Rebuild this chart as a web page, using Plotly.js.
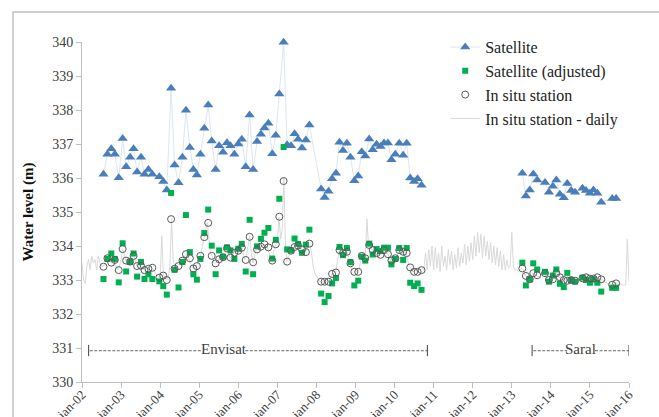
<!DOCTYPE html>
<html><head><meta charset="utf-8">
<script src="https://cdn.plot.ly/plotly-3.0.1.min.js"></script>
<style>html,body{margin:0;padding:0;background:#fff}#chart{width:659px;height:417px}</style>
</head><body><div id="chart"></div>
<script>
// ---- axis ticks ----
const yearTicks = [2002,2003,2004,2005,2006,2007,2008,2009,2010,2011,2012,2013,2014,2015,2016];
const yearLabels = ['jan-02','jan-03','jan-04','jan-05','jan-06','jan-07','jan-08','jan-09','jan-10','jan-11','jan-12','jan-13','jan-14','jan-15','jan-16'];

// ---- Envisat passes (decimal years) ----
const envisatDates = [2002.55,2002.65,2002.75,2002.84,2002.94,
  2003.04,2003.13,2003.23,2003.32,2003.41,2003.51,2003.60,2003.70,2003.80,2003.98,
  2004.08,2004.17,2004.28,2004.37,2004.47,2004.57,2004.66,2004.76,2004.85,2004.94,
  2005.03,2005.13,2005.23,2005.32,2005.42,2005.51,2005.61,2005.71,2005.80,2005.90,
  2006.00,2006.09,2006.19,2006.29,2006.38,2006.48,2006.58,2006.67,2006.77,2006.87,2006.96,
  2007.05,2007.16,2007.25,2007.35,2007.44,2007.53,2007.63,2007.73,2007.82,
  2008.12,2008.21,2008.31,2008.40,2008.50,2008.59,2008.68,2008.78,2008.87,2008.97,
  2009.07,2009.16,2009.25,2009.35,2009.44,2009.54,2009.64,2009.73,2009.83,2009.92,
  2010.02,2010.12,2010.22,2010.31,2010.40,2010.50,2010.59,2010.69];
const envisatSatellite = [336.11,336.70,336.86,336.70,336.01,
  337.16,336.33,336.61,336.86,336.18,336.61,336.11,336.25,336.11,336.04,
  335.90,335.65,338.64,336.38,335.86,336.61,337.99,336.90,336.25,336.09,
  336.70,337.46,338.15,337.09,336.25,336.95,336.76,337.04,336.95,336.70,
  337.00,337.14,336.33,337.85,336.25,337.07,337.29,337.47,337.61,336.71,337.26,
  338.47,339.99,336.98,336.95,337.30,337.14,336.88,337.12,337.56,
  335.68,335.43,335.61,335.98,336.14,337.05,336.81,337.02,336.61,335.92,
  336.06,336.77,336.65,337.15,336.83,336.99,336.93,337.03,337.03,336.54,
  336.70,337.02,336.67,337.02,336.00,335.90,335.98,335.79];
const envisatAdjusted = [333.03,333.62,333.78,333.62,332.93,
  334.08,333.25,333.53,333.78,333.10,333.53,333.03,333.17,333.03,332.96,
  332.82,332.57,335.56,333.30,332.78,333.53,334.91,333.82,333.17,333.01,
  333.62,334.38,335.07,334.01,333.17,333.87,333.68,333.96,333.87,333.62,
  333.92,334.06,333.25,334.77,333.17,333.99,334.21,334.39,334.53,333.63,334.18,
  335.39,336.91,333.90,333.87,334.22,334.06,333.80,334.04,334.48,
  332.60,332.35,332.53,332.90,333.06,333.97,333.73,333.94,333.53,332.84,
  332.98,333.69,333.57,334.07,333.75,333.91,333.85,333.95,333.95,333.46,
  333.62,333.94,333.59,333.94,332.92,332.82,332.90,332.71];
const envisatInSitu = [333.39,333.64,333.51,333.59,333.29,
  333.91,333.57,333.54,333.71,333.41,333.42,333.29,333.33,333.36,333.07,
  333.13,333.00,334.79,333.33,333.41,333.57,333.76,333.64,333.34,333.41,
  333.71,334.26,334.68,333.71,333.49,333.61,333.67,333.93,333.66,333.80,
  333.86,333.95,333.59,334.27,333.52,333.90,333.98,334.05,333.96,333.57,334.05,
  334.86,335.91,333.54,333.86,333.97,334.01,333.90,333.82,334.07,
  332.95,332.95,332.95,333.18,333.22,333.88,333.79,333.83,333.49,333.24,
  333.24,333.71,333.64,334.03,333.88,333.79,333.74,333.88,333.76,333.57,
  333.64,333.88,333.83,333.79,333.37,333.24,333.24,333.29];

// ---- Saral passes ----
const saralDates = [2013.27,2013.36,2013.46,2013.55,2013.65,2013.85,2013.95,
  2014.05,2014.14,2014.23,2014.33,2014.42,2014.52,2014.62,2014.81,2014.90,
  2015.00,2015.09,2015.19,2015.29,2015.57,2015.67];
const saralSatellite = [336.14,335.47,335.65,336.12,335.94,335.87,335.58,
  335.76,335.94,335.52,335.42,335.84,335.63,335.58,335.70,335.63,
  335.55,335.65,335.55,335.29,335.40,335.40];
const saralAdjusted = [333.51,332.84,333.02,333.49,333.31,333.24,332.95,
  333.13,333.31,332.89,332.79,333.21,333.00,332.95,333.07,333.00,
  332.92,333.02,332.92,332.66,332.77,332.77];
const saralInSitu = [333.34,333.12,333.02,333.20,333.14,333.20,333.00,
  333.02,333.20,333.08,333.00,332.98,333.00,332.98,333.05,333.08,
  333.04,333.04,333.08,333.02,332.86,332.90];

// ---- in situ daily record (read twice a month, from 2002.0) ----
const dailyStart = 2002;
const dailyPerYear = 24;
const dailyLevels = [
  333.5,333.0,332.9,333.4,333.6,333.3,333.7,333.5,333.6,333.3,333.7,333.5,333.4,333.4,333.5,333.6,333.55,333.6,333.5,333.6,333.5,333.4,333.3,333.4,
  333.6,333.9,333.7,333.55,333.6,333.5,333.6,333.7,333.7,333.5,333.4,333.45,333.4,333.35,333.3,333.3,333.35,333.3,333.4,333.35,333.3,333.2,333.15,333.1,
  333.05,334.3,333.15,333.05,333.0,333.1,333.4,334.8,333.6,333.35,333.4,333.45,333.5,333.55,333.6,333.7,333.75,333.7,333.6,333.5,333.35,333.35,333.4,333.5,
  333.6,333.75,334.0,334.25,334.4,334.7,334.2,333.8,333.7,333.5,333.5,333.55,333.6,333.6,333.65,333.7,333.8,333.95,333.8,333.65,333.7,333.8,333.85,333.8,
  333.85,333.9,333.95,333.8,333.6,333.7,334.0,334.3,333.8,333.5,333.7,333.9,333.95,333.9,334.0,334.0,334.05,334.0,333.95,333.8,333.6,333.6,333.9,334.05,
  334.1,334.85,334.2,334.5,336.0,334.0,333.55,333.7,333.85,333.9,333.95,334.0,334.0,334.0,333.95,333.9,333.85,333.8,333.9,334.0,334.05,333.8,333.4,333.2,
  333.1,333.0,332.95,332.95,332.95,332.95,332.95,332.95,333.0,333.1,333.2,333.2,333.25,333.6,333.85,333.85,333.8,333.8,333.85,333.8,333.6,333.45,333.3,333.25,
  333.25,333.25,333.3,333.55,333.7,333.65,333.6,334.8,334.0,333.95,333.9,333.85,333.8,333.8,333.75,333.75,333.8,333.9,333.85,333.8,333.75,333.65,333.55,333.6,
  333.6,333.65,333.8,333.9,333.85,333.85,333.8,333.8,333.6,333.4,333.35,333.25,333.25,333.3,333.25,333.3,333.3,333.35,333.3,333.8,333.3,333.9,333.4,334.0,
  333.3,333.95,333.35,333.8,333.25,334.0,333.4,333.7,333.3,333.9,333.45,333.85,333.3,333.75,333.35,333.95,333.4,333.8,333.5,334.05,333.45,334.0,333.55,334.1,
  333.6,334.3,333.7,334.4,333.8,334.35,333.65,334.3,333.7,334.15,333.6,334.1,333.5,334.0,333.45,333.95,333.4,333.85,333.3,333.75,333.3,333.6,333.35,333.4,
  334.4,333.4,333.3,333.3,333.25,333.3,333.35,333.3,333.15,333.1,333.05,333.0,333.1,333.2,333.15,333.15,333.1,333.1,333.15,333.2,333.2,333.1,333.0,333.0,
  333.0,333.0,333.1,333.2,333.15,333.1,333.05,333.0,333.0,333.0,332.98,333.0,333.0,333.0,332.98,332.98,333.0,333.0,333.02,333.05,333.05,333.08,333.08,333.05,
  333.04,333.04,333.04,333.06,333.08,333.06,333.03,333.02,333.0,332.95,332.92,332.9,332.88,332.87,332.86,332.88,332.9,332.88,332.87,332.86,332.85,332.85,332.86,334.2,
  332.95,332.95];
const dailyDates = dailyLevels.map((_, i) => dailyStart + i / dailyPerYear);

const serif = 'Liberation Serif, Times New Roman, serif';

const traces = [
  {x: dailyDates, y: dailyLevels, mode: 'lines', name: 'In situ station - daily',
   line: {color: '#d9d9d9', width: 1}, legendrank: 4, hoverinfo: 'skip'},
  {x: envisatDates.concat([2012], saralDates), y: envisatSatellite.concat([null], saralSatellite),
   mode: 'lines+markers', name: 'Satellite', connectgaps: false, cliponaxis: false,
   line: {color: '#dce6f2', width: 1},
   marker: {symbol: 'triangle-up', size: 9, color: '#4a7ebb'}, legendrank: 1},
  {x: envisatDates.concat(saralDates), y: envisatAdjusted.concat(saralAdjusted),
   mode: 'markers', name: 'Satellite (adjusted)', cliponaxis: false,
   marker: {symbol: 'square', size: 6, color: '#00b050'}, legendrank: 2},
  {x: envisatDates.concat(saralDates), y: envisatInSitu.concat(saralInSitu),
   mode: 'markers', name: 'In situ station', cliponaxis: false,
   marker: {symbol: 'circle-open', size: 7, color: '#595959', line: {width: 1}}, legendrank: 3}
];

const ink = '#404040';
const seg = (x0, x1) => ({type: 'line', xref: 'x', yref: 'y', x0: x0, x1: x1, y0: 330.92, y1: 330.92,
  line: {color: ink, width: 0.8, dash: '3px,1.5px'}});
const bar = (x) => ({type: 'line', xref: 'x', yref: 'y', x0: x, x1: x, y0: 330.76, y1: 331.09,
  line: {color: ink, width: 1}});

const layout = {
  width: 659, height: 417,
  margin: {l: 82, r: 30, t: 42, b: 35},
  paper_bgcolor: '#fff', plot_bgcolor: '#fff',
  font: {family: serif, color: ink, size: 13},
  showlegend: true,
  legend: {x: 0.664, y: 1.035, xanchor: 'left', yanchor: 'top', bgcolor: 'rgba(0,0,0,0)',
           font: {family: serif, size: 16, color: '#222'}},
  xaxis: {range: [2002, 2016], tickvals: yearTicks, ticktext: yearLabels, tickangle: -45,
          showgrid: false, zeroline: false, showline: true, linecolor: '#bfbfbf', linewidth: 1,
          ticks: 'outside', ticklen: 5, tickcolor: '#bfbfbf', ticklabelstandoff: -6,
          tickfont: {family: serif, size: 13, color: ink}},
  yaxis: {range: [330, 340], dtick: 1, tick0: 330, showgrid: false, zeroline: false,
          showline: true, linecolor: '#bfbfbf', linewidth: 1,
          ticks: 'outside', ticklen: 5, tickcolor: '#bfbfbf',
          tickfont: {family: serif, size: 14, color: ink},
          title: {text: '<b>Water level (m)</b>', font: {family: serif, size: 15, color: '#111'}, standoff: 14}},
  shapes: [
    {type: 'rect', xref: 'paper', yref: 'paper', x0: -0.1261, x1: 1.07, y0: -0.15, y1: 1.088,
     line: {color: '#c0c0c0', width: 1.5}, fillcolor: 'rgba(0,0,0,0)'},
    bar(2002.17), seg(2002.2, 2005.08), seg(2006.18, 2010.83), bar(2010.84),
    bar(2013.52), seg(2013.55, 2014.42), seg(2015.13, 2016.0), bar(2016.0)
  ],
  annotations: [
    {x: 2005.63, y: 330.98, xref: 'x', yref: 'y', text: 'Envisat', showarrow: false,
     font: {family: serif, size: 15, color: ink}},
    {x: 2014.77, y: 330.98, xref: 'x', yref: 'y', text: 'Saral', showarrow: false,
     font: {family: serif, size: 15, color: ink}}
  ]
};

Plotly.newPlot('chart', traces, layout, {displayModeBar: false, staticPlot: true});
</script>
</body></html>
